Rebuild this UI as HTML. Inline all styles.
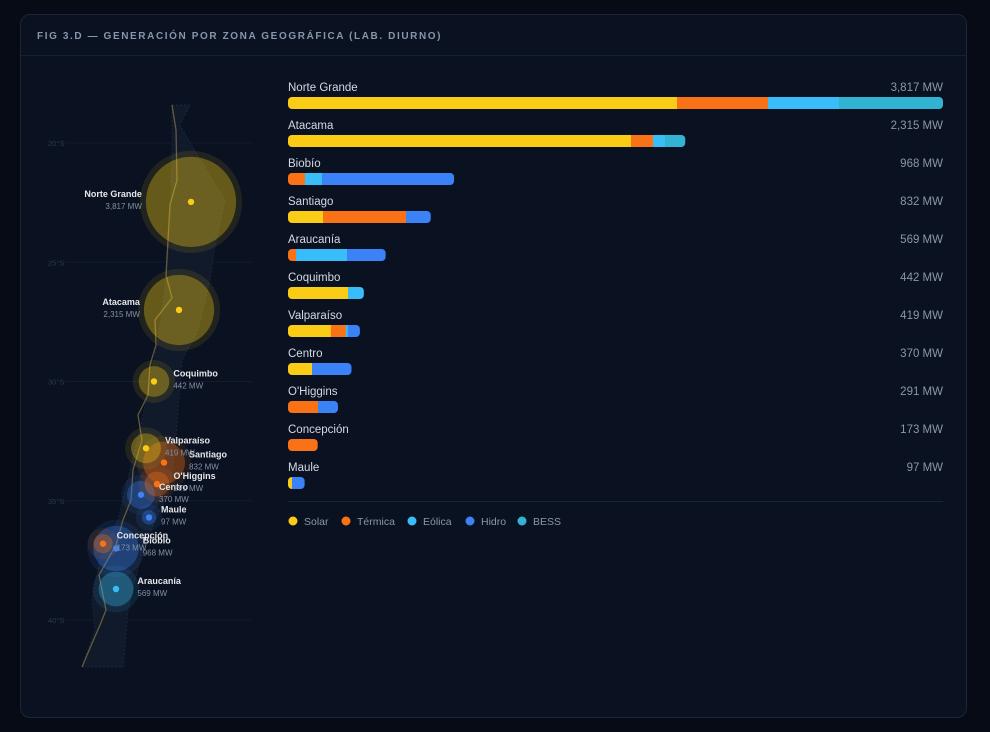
<!DOCTYPE html>
<html><head><meta charset="utf-8">
<style>
body{margin:0;background:#060b16;width:990px;height:732px;overflow:hidden;font-family:"Liberation Sans",sans-serif;}
#card{position:absolute;left:20px;top:14px;width:947px;height:704px;border:1px solid #1c2636;border-radius:10px;background:#0a1120;box-sizing:border-box;}
#title{position:absolute;left:16px;top:16px;font-size:10px;font-weight:bold;letter-spacing:1.6px;color:#8796ab;}
#hdr{position:absolute;left:0;right:0;top:40px;height:1px;background:#162032;}
</style></head><body>
<div id="card">
<div id="title">FIG 3.D — GENERACIÓN POR ZONA GEOGRÁFICA (LAB. DIURNO)</div>
<div id="hdr"></div>
</div>
<svg id="svg" width="990" height="732" style="position:absolute;left:0;top:0"></svg>
<script>
const regions=["Norte Grande","Atacama","Biobío","Santiago","Araucanía","Coquimbo","Valparaíso","Centro","O'Higgins","Concepción","Maule"];
const solar=[2267,1999,0,204,0,350,250,140,0,0,23];
const termica=[530,128,99,484,47,0,87,0,175,173,0];
const eolica=[414,70,99,0,297,92,12,0,0,0,0];
const hidro=[0,0,770,144,225,0,70,230,116,0,74];
const bess=[606,118,0,0,0,0,0,0,0,0,0];
const totals=[3817,2315,968,832,569,442,419,370,291,173,97];
const mapLat=[22.47,27.0,37.0,33.4,38.7,30.0,32.8,34.75,34.3,36.8,35.7];
const mapLon=[191,179,116,164,116,154,146,141,157,103,149];
const mapColor=["solar","solar","hidro","termica","eolica","solar","solar","hidro","termica","termica","hidro"];
const latTicks=[20,25,30,35,40];
const seriesNames=["Solar","Térmica","Eólica","Hidro","BESS"];
const seriesColors={solar:"#facc15",termica:"#f97316",eolica:"#38bdf8",hidro:"#3b82f6",bess:"#33b3d3"};
const series=[solar,termica,eolica,hidro,bess];
const keys=["solar","termica","eolica","hidro","bess"];
const NS="http://www.w3.org/2000/svg";
const svg=document.getElementById('svg');
function mk(t,a,p){const e=document.createElementNS(NS,t);for(const k in a)e.setAttribute(k,a[k]);(p||svg).appendChild(e);return e;}
const fmt=v=>v.toLocaleString('en-US')+' MW';
const x0=288,x1=943,maxV=Math.max(...totals);
const xs=v=>v/maxV*(x1-x0);
const rowY=i=>87+i*38;
regions.forEach((r,i)=>{
  const y=rowY(i);
  let t=mk('text',{x:x0,y:y+4,fill:'#d4dae3','font-size':11.5});t.textContent=r;
  
  let v=mk('text',{x:x1,y:y+4,fill:'#8a97aa','font-size':11.5,'text-anchor':'end'});v.textContent=fmt(totals[i]);
  
  const cp=mk('clipPath',{id:'c'+i});
  let tot=series.reduce((s,a)=>s+a[i],0);
  mk('rect',{x:x0,y:y+10,width:xs(tot),height:12,rx:4},cp);
  let cx=x0;
  series.forEach((a,k)=>{if(a[i]<=0)return;
    const w=xs(a[i]);
    const b=mk('rect',{x:cx,y:y+10,width:w+0.3,height:12,fill:seriesColors[keys[k]],'clip-path':'url(#c'+i+')'});
    
    cx+=w;});
});
mk('line',{x1:x0,x2:x1,y1:501.5,y2:501.5,stroke:'#1a2434'});
const lx=[293,346,412,470,522];
seriesNames.forEach((n,k)=>{
  const c=mk('circle',{cx:lx[k],cy:521,r:4.5,fill:seriesColors[keys[k]]});
  
  const t=mk('text',{x:lx[k]+11,y:525,fill:'#8a97aa','font-size':10.5});t.textContent=n;
  
});
const ly=l=>143+(l-20)*23.85;
latTicks.forEach(l=>{
  mk('line',{x1:65,x2:252,y1:ly(l),y2:ly(l),stroke:'#121c2b'});
  const t=mk('text',{x:48,y:ly(l)+3,fill:'#2c3a4f','font-size':7.5});t.textContent=l+'°S';
  
});
const land=mk('path',{d:'M172,105 L190,105 L180,125 L200,160 L225,200 L215,245 L210,280 L198,330 L182,360 L178,410 L175,450 L170,490 L155,520 L140,560 L128,610 L123,667 L82,667 L95,630 L92,600 L100,560 L118,520 L130,470 L140,430 L150,380 L158,340 L165,290 L170,230 L172,160 Z',fill:'#111a2b',stroke:'#1b2740','stroke-dasharray':'2 2'});

mk('path',{d:'M172,105 L176,130 L177,180 L170,205 L168,240 L166,275 L172,298 L155,320 L156,345 L150,365 L148,395 L138,415 L142,440 L133,470 L131,500 L123,520 L116,545 L99,575 L106,610 L100,625 L90,648 L82,667',fill:'none',stroke:'#7a6a42','stroke-width':1.3,opacity:0.8});
const order=regions.map((r,i)=>i).sort((a,b)=>totals[b]-totals[a]);
order.forEach(i=>{
  const cx=mapLon[i],cy=ly(mapLat[i]),r=0.73*Math.sqrt(totals[i]);
  const col=seriesColors[mapColor[i]];
  mk('circle',{cx,cy,r:r+6,fill:col,opacity:0.1});
  const c=mk('circle',{cx,cy,r,fill:col,opacity:0.32});
  
  mk('circle',{cx,cy,r:3.2,fill:col});
});
const labelSide=[-1,-1,1,1,1,1,1,1,1,1,1];
regions.forEach((n,i)=>{
  const cx=mapLon[i],cy=ly(mapLat[i]),r=0.73*Math.sqrt(totals[i]);
  const s=labelSide[i];const x=s<0?cx-r-4:cx+Math.max(r,8)+4;
  const a=s<0?'end':'start';
  const t=mk('text',{x,y:cy-5,fill:'#e5e7eb','font-size':9,'font-weight':'bold','text-anchor':a});t.textContent=n;
  
  const v=mk('text',{x,y:cy+7,fill:'#8390a3','font-size':8,'text-anchor':a});v.textContent=fmt(totals[i]);
});
</script>
</body></html>
